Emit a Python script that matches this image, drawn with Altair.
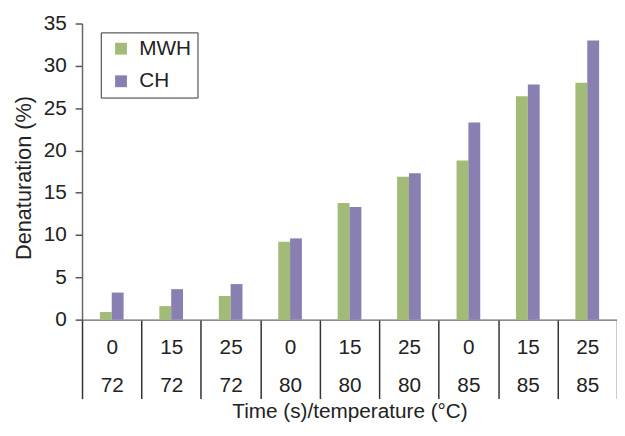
import altair as alt
import pandas as pd

times = ["0", "15", "25", "0", "15", "25", "0", "15", "25"]
temps = ["72", "72", "72", "80", "80", "80", "85", "85", "85"]
mwh = [0.9, 1.6, 2.8, 9.2, 13.8, 16.9, 18.8, 26.4, 28.0]
ch = [3.2, 3.6, 4.2, 9.6, 13.3, 17.3, 23.3, 27.8, 33.0]
series = ["MWH", "CH"]
colors = ["#a2bb76", "#8a7fb1"]

cats = [f"{t}|{T}" for t, T in zip(times, temps)]
rows = []
for c, a, b in zip(cats, mwh, ch):
    rows.append({"cat": c, "series": "MWH", "value": a})
    rows.append({"cat": c, "series": "CH", "value": b})
df = pd.DataFrame(rows)

FONT = "Liberation Sans"
W = 542
H = 300
step = W / len(cats)

chart = alt.Chart(df).mark_bar().encode(
    x=alt.X("cat:N", sort=cats,
            scale=alt.Scale(paddingInner=0, paddingOuter=0),
            axis=alt.Axis(title="Time (s)/temperature (°C)", tickBand="extent",
                          tickSize=80, tickColor="#333", domainColor="#666",
                          labelExpr="split(datum.label, '|')", labelLineHeight=39,
                          labelBaseline="top", labelPadding=-63, labelAngle=0,
                          labelFontSize=21, labelColor="#222", titleFontSize=21,
                          titleColor="#222", titleFontWeight="normal",
                          titlePadding=1, labelFont=FONT, titleFont=FONT)),
    xOffset=alt.XOffset("series:N", sort=series,
                        scale=alt.Scale(range=[step / 2 - 12, step / 2 + 12])),
    y=alt.Y("value:Q", scale=alt.Scale(domain=[0, 35]),
            axis=alt.Axis(title="Denaturation (%)", values=[0, 5, 10, 15, 20, 25, 30, 35],
                          grid=False, tickSize=7, tickColor="#555", domainColor="#666",
                          labelFontSize=21, labelColor="#222", labelPadding=9,
                          titleFontSize=22, titleColor="#222", titleFontWeight="normal",
                          titlePadding=8, titleY=156, labelFont=FONT, titleFont=FONT)),
    color=alt.Color("series:N", sort=series,
                    scale=alt.Scale(domain=series, range=colors),
                    legend=alt.Legend(title=None, orient="none", legendX=19, legendY=9,
                                      strokeColor="#333", padding=6, labelFontSize=21,
                                      labelFont=FONT, labelColor="#222",
                                      symbolType="square", symbolSize=144,
                                      symbolStrokeWidth=0, symbolOpacity=1,
                                      symbolOffset=4, rowPadding=11, labelOffset=8)),
).properties(
    width=W, height=H,
    autosize=alt.AutoSizeParams(type="none"),
    padding={"left": 75, "top": 13, "right": 0, "bottom": 103},
).configure_view(stroke=None).configure_axis(domainWidth=1.5, tickWidth=1.5)

chart.save("out.html", embed_options={"renderer": "svg", "actions": False})
